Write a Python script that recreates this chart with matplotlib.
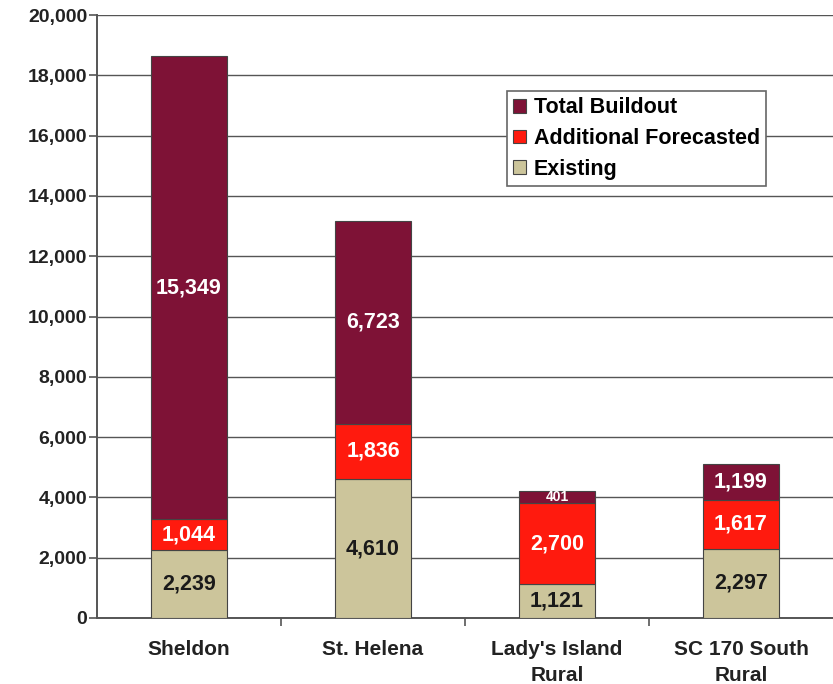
import numpy as np
import matplotlib.pyplot as plt
from matplotlib.ticker import FuncFormatter

plt.rcParams['font.family'] = ['Liberation Sans', 'DejaVu Sans']

areas = ['Sheldon', 'St. Helena', "Lady's Island\nRural", 'SC 170 South\nRural']
existing = [2239, 4610, 1121, 2297]
additional = [1044, 1836, 2700, 1617]
buildout = [15349, 6723, 401, 1199]

c_exist = '#CCC59B'
c_add = '#FF1A0E'
c_build = '#7E1236'

fig = plt.figure(figsize=(8.33, 6.84), dpi=100)
ax = fig.add_axes([0.1164, 0.0965, 0.8836, 0.8815])

x = np.arange(len(areas))
w = 0.41
b1 = ax.bar(x, existing, w, color=c_exist, edgecolor='#444444', linewidth=0.8,
            label='Existing', zorder=3)
b2 = ax.bar(x, additional, w, bottom=existing, color=c_add, edgecolor='#444444',
            linewidth=0.8, label='Additional Forecasted', zorder=3)
bottom2 = np.array(existing) + np.array(additional)
b3 = ax.bar(x, buildout, w, bottom=bottom2, color=c_build, edgecolor='#444444',
            linewidth=0.8, label='Total Buildout', zorder=3)

for i in range(len(areas)):
    ax.text(x[i], existing[i] / 2, f'{existing[i]:,}', ha='center', va='center',
            fontsize=15.5, fontweight='bold', color='#1a1a1a', zorder=4)
    ax.text(x[i], existing[i] + additional[i] / 2, f'{additional[i]:,}', ha='center',
            va='center', fontsize=15.5, fontweight='bold', color='white', zorder=4)
    fs = 10 if buildout[i] < 800 else 15.5
    ax.text(x[i], bottom2[i] + buildout[i] / 2, f'{buildout[i]:,}', ha='center',
            va='center', fontsize=fs, fontweight='bold', color='white', zorder=4)

ax.set_xlim(-0.5, 3.5)
ax.set_ylim(0, 20000)
ax.set_yticks(np.arange(0, 20001, 2000))
ax.yaxis.set_major_formatter(FuncFormatter(lambda v, p: f'{int(v):,}'))
ax.grid(axis='y', color='#555555', linewidth=1.0, zorder=0)

ax.set_xticks(x)
ax.set_xticklabels(areas, fontsize=15, fontweight='bold', color='#222222',
                   linespacing=1.45)
ax.tick_params(axis='x', length=0, pad=16)
ax.set_xticks([0.5, 1.5, 2.5], minor=True)
ax.tick_params(axis='x', which='minor', length=6, color='#555555', width=1.2)
ax.tick_params(axis='y', labelsize=14, length=6, color='#555555', width=1.2,
               labelcolor='#222222', pad=1)
for lab in ax.get_yticklabels():
    lab.set_fontweight('bold')

for s in ['top', 'right']:
    ax.spines[s].set_visible(False)
for s in ['left', 'bottom']:
    ax.spines[s].set_color('#555555')
    ax.spines[s].set_linewidth(1.4)

leg = ax.legend(handles=[b3, b2, b1], loc='upper left',
                bbox_to_anchor=(0.557, 0.874), frameon=True,
                fancybox=False, edgecolor='#666666', framealpha=1,
                handlelength=0.6, handleheight=0.6, handletextpad=0.35,
                labelspacing=0.45, borderpad=0.3, borderaxespad=0,
                prop={'weight': 'bold', 'size': 15.5})
leg.get_frame().set_linewidth(1.2)
leg.set_zorder(5)

fig.savefig('out.png', dpi=100)
